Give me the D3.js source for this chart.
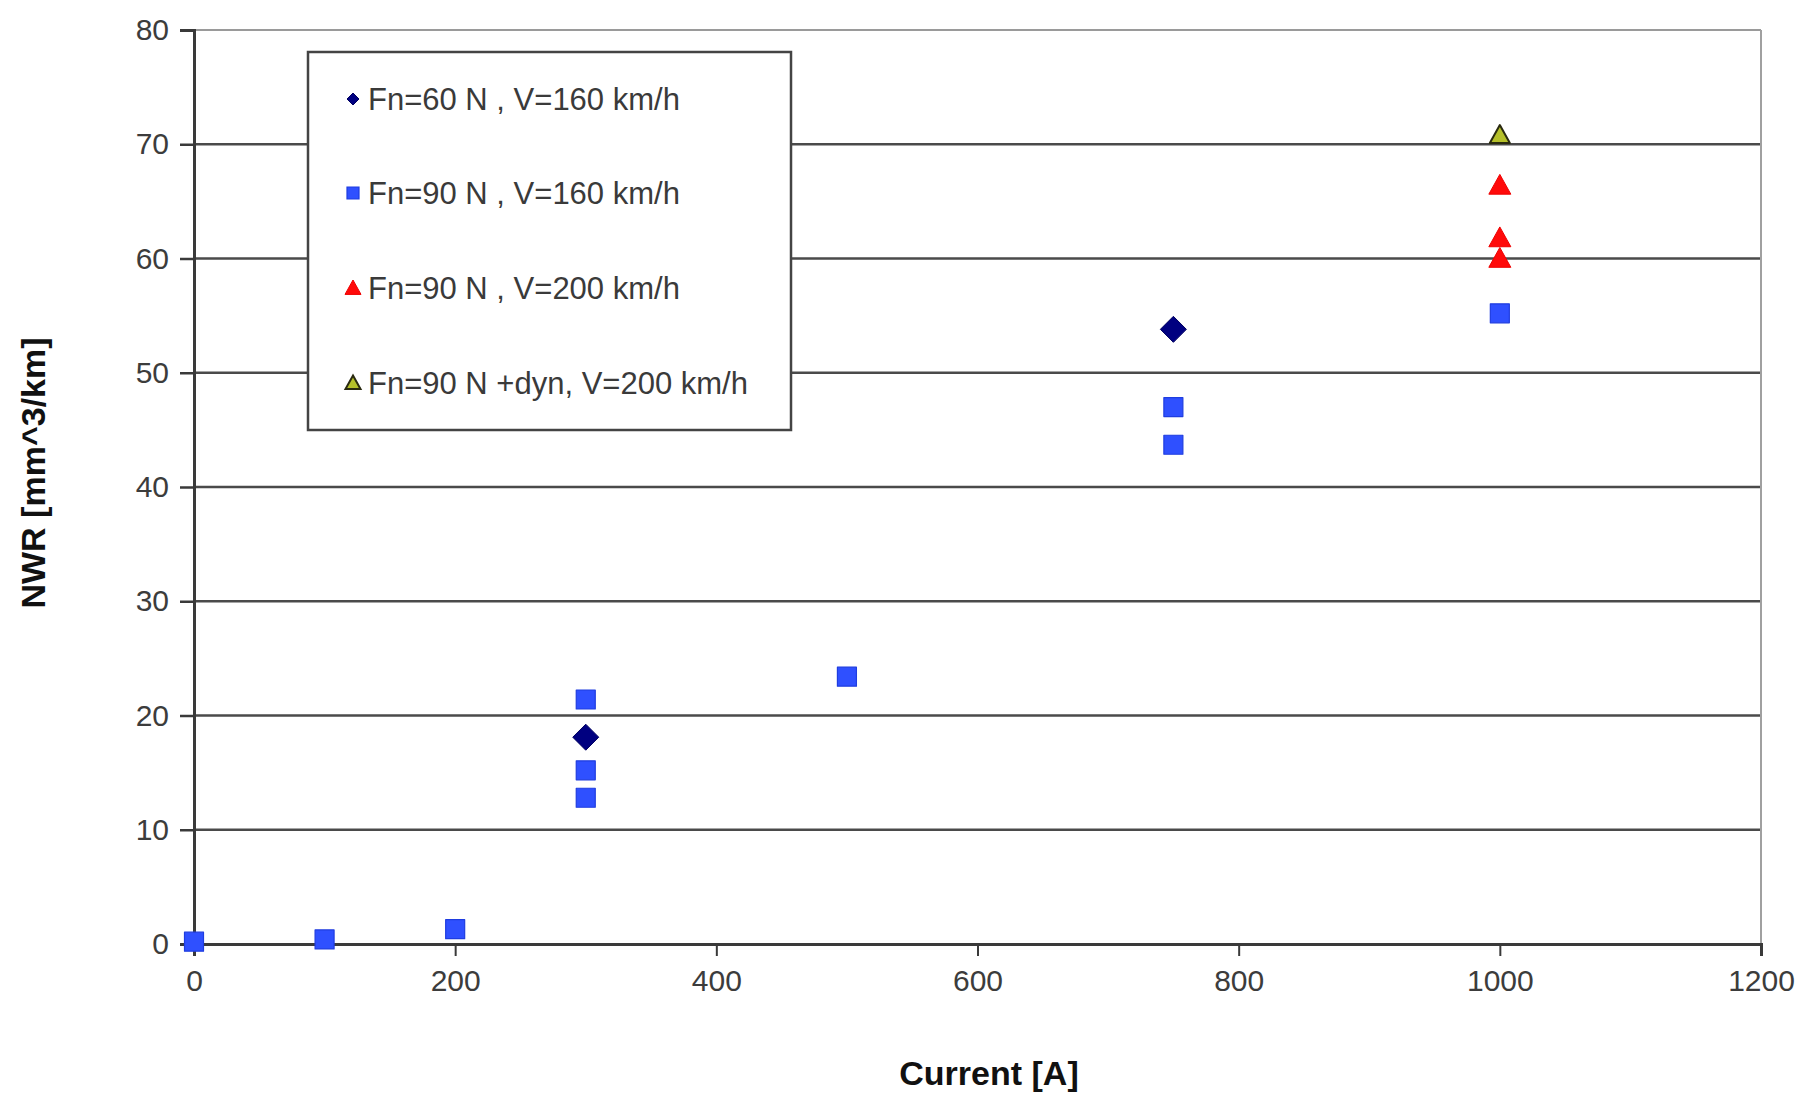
<!DOCTYPE html>
<html>
<head>
<meta charset="utf-8">
<script src="https://cdn.jsdelivr.net/npm/d3@7"></script>
<style>
  html, body { margin: 0; padding: 0; background: #fff; }
  svg { display: block; font-family: "Liberation Sans", Arial, sans-serif; }
</style>
</head>
<body>
<svg id="chart" width="1809" height="1097"></svg>
<script>
// Wear rate measurements versus current
const seriesNames = [
  "Fn=60 N , V=160 km/h",
  "Fn=90 N , V=160 km/h",
  "Fn=90 N , V=200 km/h",
  "Fn=90 N +dyn, V=200 km/h"
];
const fn60v160Current = [300, 750];
const fn60v160Nwr     = [18.1, 53.8];
const fn90v160Current = [0, 100, 200, 300, 300, 300, 500, 750, 750, 1000];
const fn90v160Nwr     = [0.2, 0.4, 1.3, 21.4, 15.2, 12.8, 23.4, 47.0, 43.7, 55.2];
const fn90v200Current = [1000, 1000, 1000];
const fn90v200Nwr     = [66.4, 61.8, 60.0];
const fn90dynCurrent  = [1000];
const fn90dynNwr      = [70.8];
const xTicks = [0, 200, 400, 600, 800, 1000, 1200];
const yTicks = [0, 10, 20, 30, 40, 50, 60, 70, 80];
const xTitle = "Current [A]";
const yTitle = "NWR [mm^3/km]";

const svg = d3.select("#chart");
const plot = { left: 194, right: 1761, top: 30, bottom: 944 };

const x = d3.scaleLinear().domain([0, 1200]).range([plot.left, plot.right]);
const y = d3.scaleLinear().domain([0, 80]).range([plot.bottom, plot.top]);

// Marker shapes, centred on (0,0)
const shapes = {
  diamond: s => `M0,${-s}L${s},0L0,${s}L${-s},0Z`,
  square:  s => `M${-s},${-s}H${s}V${s}H${-s}Z`,
  triangle: s => `M0,${-s}L${s},${s * 0.8}L${-s},${s * 0.8}Z`
};
const styles = [
  { shape: "diamond",  size: 13, legendSize: 6, fill: "#000080", stroke: "#000060", sw: 1 },
  { shape: "square",   size: 9.5, legendSize: 6, fill: "#2f50ff", stroke: "#1f3de0", sw: 1.2 },
  { shape: "triangle", size: 11, legendSize: 8, fill: "#ff0a0a", stroke: "#ee0000", sw: 1 },
  { shape: "triangle", size: 10, legendSize: 7.5, fill: "#b5c02a", stroke: "#2a2a10", sw: 2 }
];
const series = [
  { xs: fn60v160Current, ys: fn60v160Nwr },
  { xs: fn90v160Current, ys: fn90v160Nwr },
  { xs: fn90v200Current, ys: fn90v200Nwr },
  { xs: fn90dynCurrent,  ys: fn90dynNwr }
];

// Horizontal gridlines
svg.append("g").selectAll("line")
  .data(yTicks.filter(t => t > 0))
  .join("line")
  .attr("x1", plot.left).attr("x2", plot.right)
  .attr("y1", d => y(d)).attr("y2", d => y(d))
  .attr("stroke", d => d === 80 ? "#9a9a9a" : "#4a4a4a")
  .attr("stroke-width", d => d === 80 ? 2 : 2.6);

// Right frame edge
svg.append("line")
  .attr("x1", plot.right).attr("x2", plot.right)
  .attr("y1", plot.top).attr("y2", plot.bottom)
  .attr("stroke", "#a0a0a0").attr("stroke-width", 2);

// Y axis
const yAxis = svg.append("g")
  .attr("transform", `translate(${plot.left},0)`)
  .call(d3.axisLeft(y).tickValues(yTicks).tickSize(14).tickPadding(11).tickFormat(d3.format("d")));
yAxis.select(".domain").attr("stroke", "#3a3a3a").attr("stroke-width", 3);
yAxis.selectAll(".tick line").attr("stroke", "#3a3a3a").attr("stroke-width", 2.5);
yAxis.selectAll(".tick text")
  .attr("fill", "#3c3c3c").attr("font-size", 30)
  .attr("font-family", "Liberation Sans, Arial, sans-serif");

// X axis
const xAxis = svg.append("g")
  .attr("transform", `translate(0,${plot.bottom})`)
  .call(d3.axisBottom(x).tickValues(xTicks).tickSize(12).tickPadding(14).tickFormat(d3.format("d")));
xAxis.select(".domain").attr("stroke", "#3a3a3a").attr("stroke-width", 3);
xAxis.selectAll(".tick line").attr("stroke", "#3a3a3a").attr("stroke-width", 2);
xAxis.selectAll(".tick text")
  .attr("fill", "#3c3c3c").attr("font-size", 30)
  .attr("font-family", "Liberation Sans, Arial, sans-serif");

// Axis titles
svg.append("text")
  .attr("x", 989).attr("y", 1085)
  .attr("text-anchor", "middle")
  .attr("font-size", 34).attr("font-weight", "bold").attr("fill", "#111")
  .text(xTitle);
svg.append("text")
  .attr("transform", "translate(45,473) rotate(-90)")
  .attr("text-anchor", "middle")
  .attr("font-size", 34).attr("font-weight", "bold").attr("fill", "#111")
  .text(yTitle);

// Data markers
series.forEach((s, i) => {
  const st = styles[i];
  svg.append("g").selectAll("path")
    .data(s.xs.map((cx, j) => [cx, s.ys[j]]))
    .join("path")
    .attr("transform", d => `translate(${x(d[0])},${y(d[1])})`)
    .attr("d", shapes[st.shape](st.size))
    .attr("fill", st.fill)
    .attr("stroke", st.stroke)
    .attr("stroke-width", st.sw)
    .attr("stroke-linejoin", "round");
});

// Legend
const legend = svg.append("g");
legend.append("rect")
  .attr("x", 308).attr("y", 52).attr("width", 483).attr("height", 378)
  .attr("fill", "#fff").attr("stroke", "#444").attr("stroke-width", 2.5);
const rowY = [99, 193, 288, 383];
seriesNames.forEach((name, i) => {
  const st = styles[i];
  legend.append("path")
    .attr("transform", `translate(353,${rowY[i]})`)
    .attr("d", shapes[st.shape](st.legendSize))
    .attr("fill", st.fill).attr("stroke", st.stroke).attr("stroke-width", st.sw);
  legend.append("text")
    .attr("x", 368).attr("y", rowY[i]).attr("dy", "0.36em")
    .attr("font-size", 31).attr("fill", "#3a3a3a")
    .text(name);
});
</script>
</body>
</html>
